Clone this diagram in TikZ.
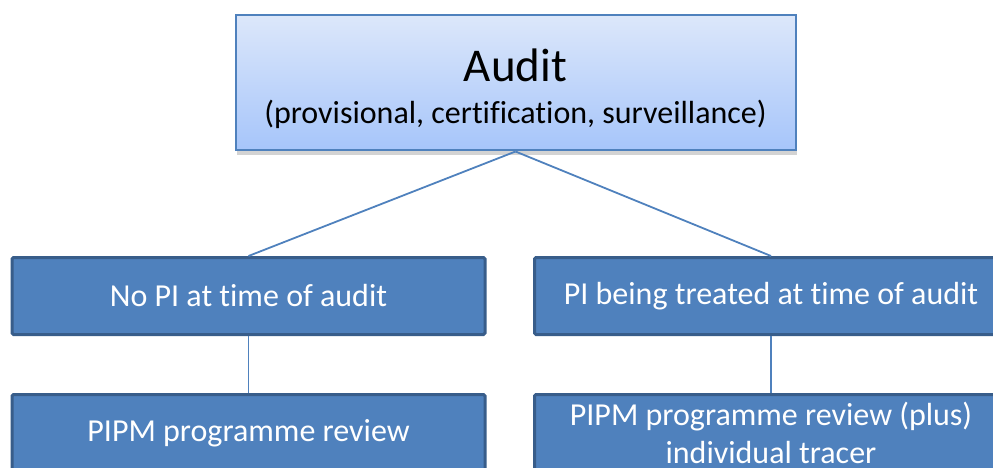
\documentclass[tikz,border=0pt]{standalone}
\usepackage{fontspec}
\setmainfont{Carlito}[Ligatures={NoCommon}]
\usetikzlibrary{shadows}
\definecolor{boxblue}{RGB}{79,129,189}
\definecolor{boxedge}{RGB}{56,93,138}
\definecolor{audittop}{RGB}{220,231,250}
\definecolor{auditbottom}{RGB}{166,197,250}
\tikzset{
  auditbox/.style={rectangle, draw=boxblue, line width=2pt, top color=audittop, bottom color=auditbottom,
    minimum width=560pt, minimum height=135pt, inner sep=2pt, align=center,
    font=\fontsize{32}{42}\selectfont,
    drop shadow={shadow xshift=1pt, shadow yshift=-4pt, opacity=0.35}},
  casebox/.style={rectangle, draw=boxedge, line width=3pt, fill=boxblue, text=white, rounded corners=1.5pt,
    minimum width=473pt, minimum height=77pt, inner sep=2pt, align=center,
    font=\fontsize{32}{38}\selectfont},
  link/.style={draw=boxblue, line width=1.8pt}
}
\begin{document}
\begin{tikzpicture}[x=1pt, y=-1pt]
		\useasboundingbox (0,0) rectangle (993,468);
		\node[auditbox] (audit) at (515.5,83) {\rule{0pt}{44pt}{\fontsize{47}{50}\selectfont Audit}\\(provisional, certification, surveillance)};
		\node[casebox] (nopi) at (248.5,296) {No PI at time of audit};
		\node[casebox] (pitreated) at (771,296) {PI being treated at time of audit};
		\node[casebox] (reviewnopi) at (248.5,433) {PIPM programme review};
		\node[casebox] (reviewpi) at (771,433) {PIPM programme review (plus)\\individual tracer};
		
		\path[link] (audit.south) -- (nopi.north);
		\path[link] (audit.south) -- (pitreated.north);
		\path[link] (nopi.south) -- (reviewnopi.north);
		\path[link] (pitreated.south) -- (reviewpi.north);
\end{tikzpicture}
\end{document}
